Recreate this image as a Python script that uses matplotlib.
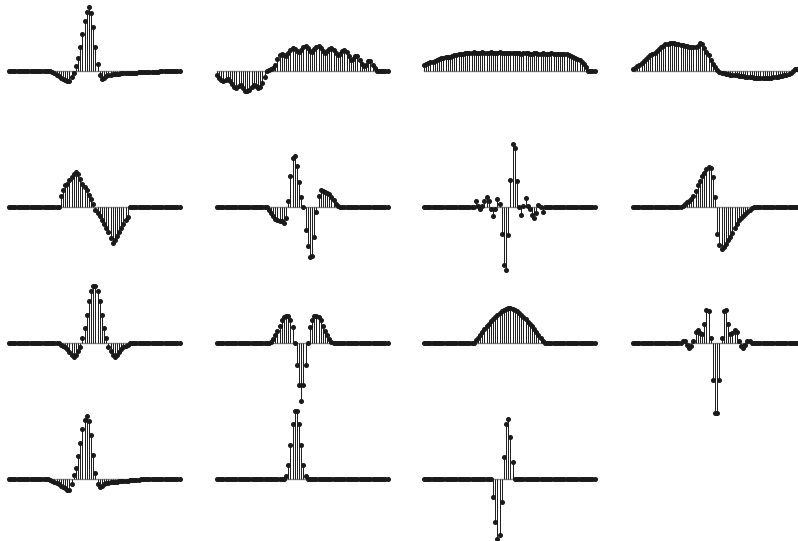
import matplotlib
matplotlib.use("Agg")
import matplotlib.pyplot as plt
import numpy as np

N = 80  # samples per panel


def pad(start, vals):
    return [0.0] * start + list(vals) + [0.0] * (N - start - len(vals))


# ---- row 1 ----
r1c1 = pad(19, [-0.5, -1.5, -2.5, -4, -5.5, -7, -8.5, -9.5, -10.3, -10.3, -6.6, -2.7,
                4.7, 13, 23.7, 37, 49.7, 58.7, 63.4, 57.4, 44, 24, 6.7, -4.3, -8.3,
                -7, -5.7, -4.7, -4, -3.5, -3.2, -3, -2.8, -2.6, -2.5, -2.3, -2.2, -2.1,
                -2, -1.9, -1.8, -1.7, -1.6, -1.5, -1.4, -1.3, -1.2, -1.1, -1, -0.9,
                -0.8, -0.6, -0.4])
r1c2 = pad(0, [-4, -7.3, -9.7, -10.7, -9.3, -8.3, -10, -13.3, -16.3, -17.3, -15.7, -14.7,
               -17.3, -20, -20.7, -19, -16.7, -14.7, -15.7, -17.3, -16.7, -12.3, -6.7, -0.7,
               1, 1.7, 2.7, 6, 12, 15.3, 16.7, 15.3, 14.3, 17.7, 21, 22.7, 22, 20, 18.7,
               21, 24, 24.7, 22.7, 20, 18.7, 21.3, 24, 24.7, 22.7, 20, 17.7, 19.3, 22,
               22.7, 21, 17.7, 15.3, 16.7, 20, 21, 18.7, 14.3, 11, 12, 14.3, 14.3, 11,
               6.7, 4.3, 6, 9.3, 9.3, 6, 2.7])
r1c3 = pad(0, [5.7, 6.5, 7.5, 8.3, 9.2, 10, 10.8, 11.6, 12.3, 12.6, 13.3, 14, 14.2, 14.8,
               15.5, 15.6, 16.3, 16.9, 17, 17.4, 17.9, 17.6, 17.9, 18.4, 18.1, 17.8, 18.2,
               18.5, 18.1, 17.8, 18.2, 18.6, 18.2, 17.8, 18, 18.3, 17.9, 17.5, 17.8, 18.1,
               17.7, 17.3, 17.5, 17.9, 17.5, 17.1, 17.3, 17.7, 17.4, 17, 17.2, 17.6, 17.3,
               16.9, 17.1, 17.5, 17.2, 16.8, 17, 17.3, 17, 16.7, 16.9, 17.1, 16.9, 16.6,
               16.5, 15.8, 15, 14, 12.8, 11.7, 10.3, 8.5, 6.5, 3.5])
r1c4 = pad(0, [1.5, 3, 4.5, 6, 7.3, 9.5, 12, 14, 15.3, 16.6, 18, 19.7, 22, 23.8, 25, 26.3,
               27.1, 27.5, 27.4, 27.3, 27, 26.6, 26, 25.5, 24.9, 24.3, 24, 23.7, 23.4, 23.5,
               25, 27.3, 27, 23, 18.5, 15.3, 11, 7, 3.3, 0.3, -1.3, -2, -2.5, -3, -3.4,
               -3.8, -4.1, -4.3, -4.7, -5.1, -5.4, -5.7, -6, -6, -6.3, -6.7, -7, -7.3,
               -7.7, -7.6, -7.4, -7.3, -7.1, -7, -6.8, -6.6, -6.3, -6, -5.6, -5, -4.5,
               -3.8, -3, -2, -0.5, 1.3, 1.8, 2.0, 2.2, 2.4])

# ---- row 2 ----
r2c1 = pad(24, [11, 17.3, 22.3, 23.3, 26.7, 30, 32.7, 34.7, 32.7, 28.3, 23.3, 20, 16.7,
                12.3, 8, 3.3, -2.7, -6, -9.3, -13.3, -17.3, -21.3, -25.3, -30.7, -36,
                -33.3, -29.3, -25.3, -21.3, -17.3, -12.7, -10])
r2c2 = pad(24, [-2.7, -6, -9.3, -12, -13.3, -13.7, -14.3, -16, -11, 6.3, 30.7, 49, 51.3,
                40.7, 25, 10, 0, -23.3, -39.3, -50, -48.7, -30, -5.3, 11.3, 16.7, 15.7,
                14.7, 14, 13.3, 10, 6.7, 3.3, 0.7])
r2c3 = pad(24, [5.7, 0.7, -2.3, 0.7, 5.7, 9.7, 5.7, -2, -8.7, -1.7, 8.3, 3, -27, -58.3,
                -63.3, -27.7, 27.3, 63.3, 59, 26.3, 0, -8.3, 0.7, 9, 0.7, -1.7, -7.7, -11,
                -6, 2.3, -0.3, -5, 0])
r2c4 = pad(23, [1, 2.7, 4.5, 6, 8, 11, 16, 21.5, 26, 30.5, 34, 37.5, 40, 39, 30, 10,
                -26.7, -38.3, -41.7, -40, -36.7, -33.3, -30, -25.7, -21, -16.7, -13.3,
                -10.7, -8.7, -6.7, -4.7, -2.7, -1])

# ---- row 3 ----
r3c1 = pad(24, [-1.3, -2.3, -4, -6, -9, -11.7, -13.3, -11.3, -7.7, -3.3, 5.7, 15.7, 28.3,
                42, 52, 57.7, 57.7, 52, 42, 28.3, 15.7, 5.7, -3.3, -7.7, -11.3, -13.3,
                -11.7, -9, -6, -4, -2.3, -1.3])
r3c2 = pad(24, [0.3, 1.7, 4.3, 8.3, 12.3, 17.7, 23.3, 26, 27.7, 27, 23.3, 16.7, 0, -21.7,
                -42, -58, -42, -21.7, 0, 16.7, 23.3, 27, 27.7, 26, 23.3, 17.7, 12.3, 8.3,
                4.3, 1.7, 0.3])
r3c3 = pad(24, [3, 5.7, 8.3, 11.5, 14.5, 17, 19.7, 22, 24.5, 26.8, 28.8, 30.5, 32, 33.4,
                34.3, 35, 35, 34.3, 33.4, 32, 30.5, 28.6, 26.5, 24, 21.7, 19.5, 17, 14.3,
                11.3, 8.5, 5.5, 2.5])
r3c4 = pad(23, [2.7, 2.5, -1.7, -5, -2.8, 2.7, 11.7, 13.3, 10, 9, 19, 33.3, 32.3, 5.7,
                -36.7, -70, -70, -36.7, 5.7, 32.3, 33.3, 19, 9, 10, 13.3, 11.7, 2.7, -2.8,
                -5, -1.7, 2.5, 2.7])

# ---- row 4 ----
r4c1 = pad(19, [-0.7, -1.5, -2.5, -3.7, -5, -6.3, -7.7, -9, -10.3, -10.7, -5, 4.3, 11.3,
                23.3, 36.7, 50, 59.3, 63.3, 58.7, 44.3, 24.3, 6.7, -5, -8, -6.3, -5, -4.2,
                -3.6, -3.2, -2.9, -2.6, -2.4, -2.2, -2, -1.8, -1.6, -1.4, -1.2, -1, -0.8,
                -0.5, -0.3])
r4c2 = pad(32, [3.3, 14.3, 34.3, 55.3, 68.7, 68.7, 55.3, 34.3, 14.3, 3.3])
r4c3 = pad(32, [-17.3, -42.3, -60, -55.7, -23, 22.7, 55.3, 60, 42, 17])

panels = [
    [r1c1, r1c2, r1c3, r1c4],
    [r2c1, r2c2, r2c3, r2c4],
    [r3c1, r3c2, r3c3, r3c4],
    [r4c1, r4c2, r4c3, None],
]

# ---- layout (pixels) ----
W, H = 798, 541
col_first = [9, 217, 424, 633]
step = 2.16
row_base = [70.7, 206.8, 343.3, 479.3]
half = 75

fig = plt.figure(figsize=(W / 100, H / 100), dpi=100)
x = np.arange(N)

for r, row in enumerate(panels):
    for c, vals in enumerate(row):
        if vals is None:
            continue
        left = col_first[c] - step
        width = (N + 1) * step
        top = row_base[r] - half
        ax = fig.add_axes([left / W, 1 - (top + 2 * half) / H, width / W, 2 * half / H])
        ax.set_xlim(-1, N)
        ax.set_ylim(-half, half)
        ax.axis("off")
        ml, sl, bl = ax.stem(x, vals, linefmt="k-", markerfmt="ko", basefmt="-")
        sl.set_linewidth(0.7)
        sl.set_color("#1a1a1a")
        ml.set_markersize(2.6)
        ml.set_color("#1a1a1a")
        bl.set_color("#8a8a8a")
        bl.set_linewidth(1.0)
        bl.set_zorder(1)

fig.savefig("out.png", dpi=100)
